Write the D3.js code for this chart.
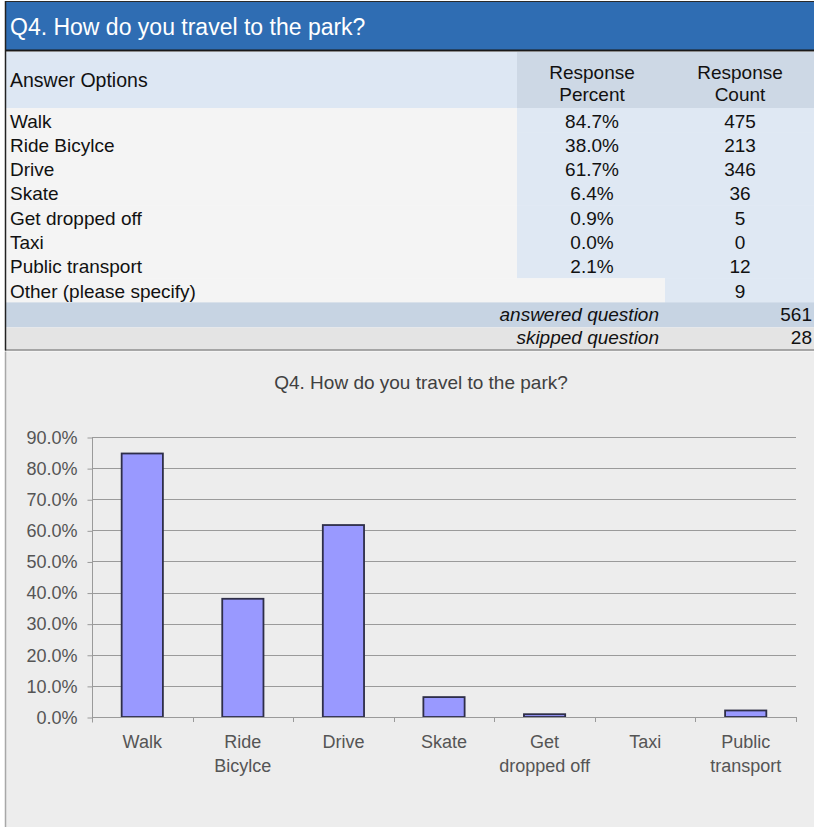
<!DOCTYPE html>
<html>
<head>
<meta charset="utf-8">
<script src="https://cdn.jsdelivr.net/npm/d3@7"></script>
<style>
  html, body { margin: 0; padding: 0; background: #ffffff; }
  svg { display: block; font-family: "Liberation Sans", Arial, sans-serif; }
</style>
</head>
<body>
<div id="chart"></div>
<script>
// ---- data ----
const questionTitle = "Q4. How do you travel to the park?";
const answers = ["Walk", "Ride Bicylce", "Drive", "Skate", "Get dropped off", "Taxi", "Public transport", "Other (please specify)"];
const percentLabels = ["84.7%", "38.0%", "61.7%", "6.4%", "0.9%", "0.0%", "2.1%", null];
const counts = [475, 213, 346, 36, 5, 0, 12, 9];
const answeredCount = 561;
const skippedCount = 28;

const chartCategories = [["Walk"], ["Ride", "Bicylce"], ["Drive"], ["Skate"], ["Get", "dropped off"], ["Taxi"], ["Public", "transport"]];
const chartValues = [84.7, 38.0, 61.7, 6.4, 0.9, 0.0, 2.1];
const yTicks = [0, 10, 20, 30, 40, 50, 60, 70, 80, 90];

// ---- drawing ----
const W = 814, H = 827;
const svg = d3.select("#chart").append("svg").attr("width", W).attr("height", H);

// Title bar
svg.append("rect").attr("x", 5).attr("y", 2).attr("width", 809).attr("height", 48).attr("fill", "#2f6db3");
svg.append("line").attr("x1", 5).attr("x2", 814).attr("y1", 1.5).attr("y2", 1.5).attr("stroke", "#2a2a2a").attr("stroke-width", 1);
svg.append("line").attr("x1", 5).attr("x2", 814).attr("y1", 50.5).attr("y2", 50.5).attr("stroke", "#1a1a1a").attr("stroke-width", 2);
svg.append("text").attr("x", 10).attr("y", 35).attr("fill", "#ffffff").style("font-size", "23px").text(questionTitle);

// Header row
const colL = 5, colP = 517, colC = 667, colR = 812;
const hdrTop = 52, hdrBot = 108;
svg.append("rect").attr("x", colL).attr("y", hdrTop).attr("width", colP - colL).attr("height", hdrBot - hdrTop).attr("fill", "#dde7f3");
svg.append("rect").attr("x", colP).attr("y", hdrTop).attr("width", colR - colP + 2).attr("height", hdrBot - hdrTop).attr("fill", "#cdd8e5");
svg.append("text").attr("x", 10).attr("y", 87).style("font-size", "19.5px").attr("fill", "#111").text("Answer Options");
const pCx = 592, cCx = 740;
[["Response", "Percent", pCx], ["Response", "Count", cCx]].forEach(([a, b, cx]) => {
  svg.append("text").attr("x", cx).attr("y", 79).attr("text-anchor", "middle").style("font-size", "19px").attr("fill", "#111").text(a);
  svg.append("text").attr("x", cx).attr("y", 101).attr("text-anchor", "middle").style("font-size", "19px").attr("fill", "#111").text(b);
});

// Data rows
const rowH = 24.3;
const rowScale = d3.scaleBand().domain(d3.range(answers.length)).range([hdrBot, hdrBot + rowH * answers.length]).padding(0);
answers.forEach((ans, i) => {
  const y0 = rowScale(i);
  svg.append("rect").attr("x", colL).attr("y", y0).attr("width", colP - colL).attr("height", rowH + 0.5).attr("fill", "#f4f4f4");
  if (percentLabels[i] !== null) {
    svg.append("rect").attr("x", colP).attr("y", y0).attr("width", colR - colP + 2).attr("height", rowH + 0.5).attr("fill", "#dfe8f3");
  } else {
    svg.append("rect").attr("x", colP).attr("y", y0).attr("width", colC - colP - 2).attr("height", rowH + 0.5).attr("fill", "#f4f4f4");
    svg.append("rect").attr("x", colC - 2).attr("y", y0).attr("width", colR - colC + 4).attr("height", rowH + 0.5).attr("fill", "#dfe8f3");
  }
  const base = y0 + 19.5;
  svg.append("text").attr("x", 10).attr("y", base).style("font-size", "19px").attr("fill", "#111").text(ans);
  if (percentLabels[i] !== null)
    svg.append("text").attr("x", pCx).attr("y", base).attr("text-anchor", "middle").style("font-size", "19px").attr("fill", "#111").text(percentLabels[i]);
  svg.append("text").attr("x", cCx).attr("y", base).attr("text-anchor", "middle").style("font-size", "19px").attr("fill", "#111").text(counts[i]);
});

// Summary rows
const sumTop = hdrBot + rowH * answers.length;
svg.append("rect").attr("x", colL).attr("y", sumTop).attr("width", colR - colL + 2).attr("height", 25).attr("fill", "#c7d4e3");
svg.append("rect").attr("x", colL).attr("y", sumTop + 25).attr("width", colR - colL + 2).attr("height", 22).attr("fill", "#e4e4e4");
svg.append("line").attr("x1", 5).attr("x2", 814).attr("y1", sumTop + 47.5).attr("y2", sumTop + 47.5).attr("stroke", "#8a8a8a").attr("stroke-width", 1.5);
svg.append("text").attr("x", 659).attr("y", sumTop + 19).attr("text-anchor", "end").style("font-size", "19px").attr("font-style", "italic").attr("fill", "#111").text("answered question");
svg.append("text").attr("x", 812).attr("y", sumTop + 19).attr("text-anchor", "end").style("font-size", "19px").attr("fill", "#111").text(answeredCount);
svg.append("text").attr("x", 659).attr("y", sumTop + 42).attr("text-anchor", "end").style("font-size", "19px").attr("font-style", "italic").attr("fill", "#111").text("skipped question");
svg.append("text").attr("x", 812).attr("y", sumTop + 42).attr("text-anchor", "end").style("font-size", "19px").attr("fill", "#111").text(skippedCount);

// left dark border of table
svg.append("line").attr("x1", 5.5).attr("x2", 5.5).attr("y1", 1).attr("y2", sumTop + 48).attr("stroke", "#222").attr("stroke-width", 1.5);

// Chart area
const chTop = sumTop + 49;
svg.append("rect").attr("x", 5).attr("y", chTop).attr("width", W - 5).attr("height", H - chTop).attr("fill", "#ededed");
svg.append("line").attr("x1", 5.5).attr("x2", 5.5).attr("y1", chTop).attr("y2", H).attr("stroke", "#a8a8a8").attr("stroke-width", 1.5);

svg.append("text").attr("x", 421).attr("y", 389).attr("text-anchor", "middle").style("font-size", "19px").attr("fill", "#404040").text(questionTitle);

const plotL = 92, plotR = 796, plotTop = 437, plotBot = 717;
const x = d3.scaleBand().domain(d3.range(chartCategories.length)).range([plotL, plotR]).paddingInner(0.59).paddingOuter(0.295);
const y = d3.scaleLinear().domain([0, 90]).range([plotBot, plotTop]);

// gridlines
svg.append("g").selectAll("line").data(yTicks.filter(t => t > 0)).join("line")
  .attr("x1", plotL).attr("x2", plotR).attr("y1", d => Math.round(y(d)) + 0.5).attr("y2", d => Math.round(y(d)) + 0.5)
  .attr("stroke", "#9a9a9a").attr("stroke-width", 1.2);

// y axis
const yAxis = d3.axisLeft(y).tickValues(yTicks).tickFormat(d => d.toFixed(1) + "%").tickSize(5).tickPadding(10);
const gy = svg.append("g").attr("transform", `translate(${plotL + 0.5},0.5)`).call(yAxis)
  .attr("font-size", null).attr("font-family", null);
gy.select(".domain").attr("stroke", "#9a9a9a").attr("d", `M0,${plotTop}V${plotBot + 5}`);
gy.selectAll(".tick line").attr("stroke", "#9a9a9a");
gy.selectAll(".tick text").style("font-size", "18px").attr("fill", "#555");

// bars
svg.append("g").selectAll("rect").data(chartValues).join("rect")
  .attr("x", (d, i) => x(i)).attr("width", x.bandwidth())
  .attr("y", d => y(d)).attr("height", d => plotBot - y(d))
  .attr("fill", "#9999ff").attr("stroke", "#2e2e48").attr("stroke-width", 1.8)
  .attr("display", d => d > 0 ? null : "none");

// x axis
svg.append("line").attr("x1", plotL).attr("x2", plotR).attr("y1", plotBot + 0.5).attr("y2", plotBot + 0.5).attr("stroke", "#9a9a9a").attr("stroke-width", 1.2);
const bounds = d3.range(chartCategories.length + 1).map(i => plotL + i * x.step());
svg.append("g").selectAll("line").data(bounds).join("line")
  .attr("x1", d => Math.round(d) + 0.5).attr("x2", d => Math.round(d) + 0.5).attr("y1", plotBot).attr("y2", plotBot + 5)
  .attr("stroke", "#9a9a9a").attr("stroke-width", 1);

const xl = svg.append("g").selectAll("text").data(chartCategories).join("text")
  .attr("text-anchor", "middle").style("font-size", "18px").attr("fill", "#555")
  .attr("transform", (d, i) => `translate(${x(i) + x.bandwidth() / 2},748)`);
xl.selectAll("tspan").data(d => d).join("tspan").attr("x", 0).attr("y", (d, j) => j * 24).text(d => d);
</script>
</body>
</html>
